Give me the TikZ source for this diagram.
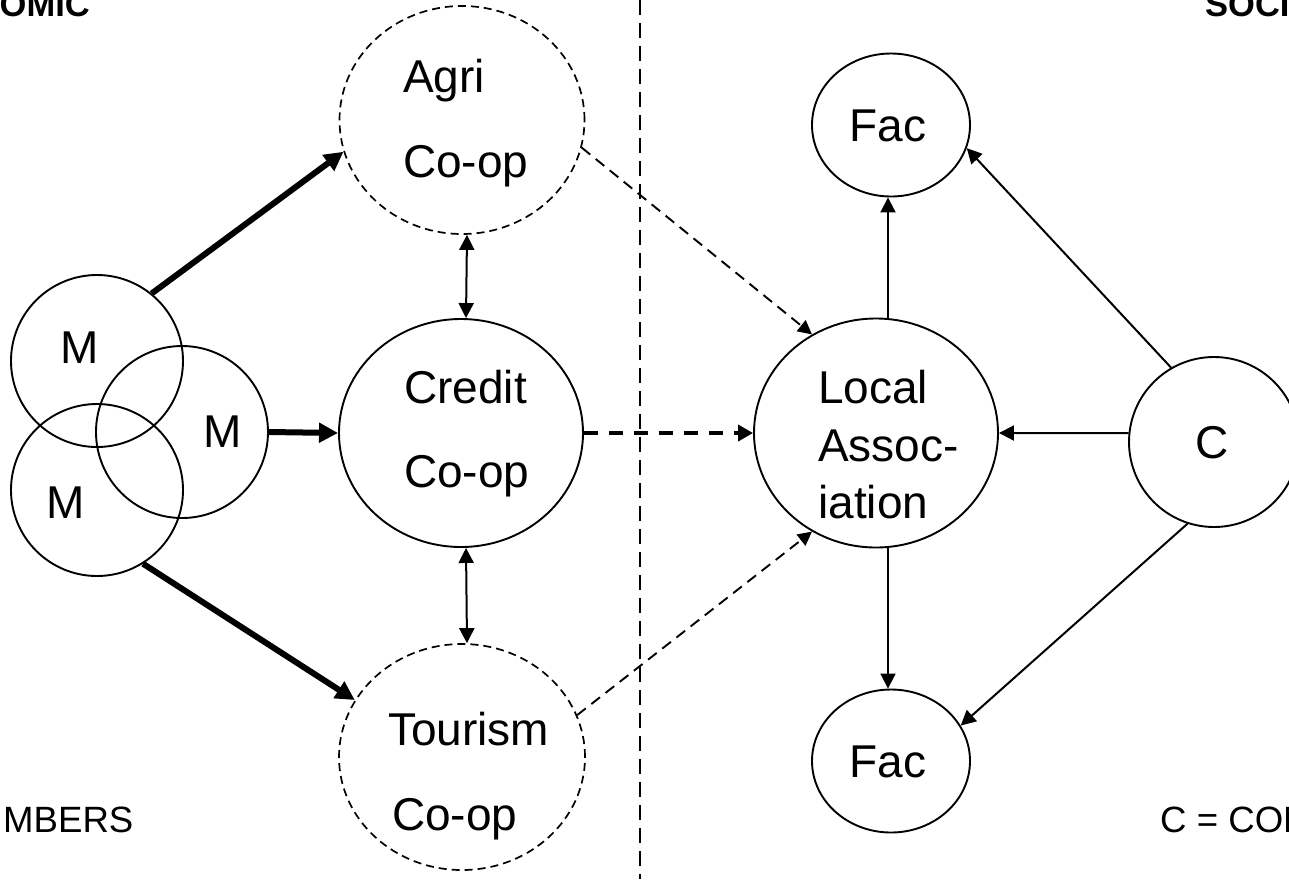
\documentclass[tikz,border=0pt]{standalone}
\usepackage{fontspec}
\setmainfont{Liberation Sans}
\usetikzlibrary{arrows.meta,shapes.geometric}
\begin{document}
\begin{tikzpicture}[x=1pt,y=-1pt,
  ell/.style={ellipse, draw, line width=1.9pt, inner sep=0pt},
  circ/.style={circle, draw, line width=1.9pt, inner sep=0pt, minimum size=172pt},
  dsh/.style={line width=1.7pt, dash pattern=on 8pt off 5pt},
  txt/.style={inner sep=0pt, anchor=base west, font=\fontsize{46}{55}\selectfont},
  ttl/.style={inner sep=0pt, font=\bfseries\fontsize{34.5}{40}\selectfont},
  leg/.style={inner sep=0pt, anchor=base west, font=\fontsize{36.6}{44}\selectfont},
  thickarr/.style={line width=6pt, -{Triangle[length=19pt,width=19pt]}},
  thinarr/.style={line width=2pt, >={Triangle[length=15pt,width=15pt]}},
  dashthin/.style={line width=1.9pt, dash pattern=on 11pt off 7pt, -{Triangle[length=14pt,width=14pt]}},
  dashthick/.style={line width=4.5pt, dash pattern=on 14pt off 11pt, -{Triangle[length=15pt,width=16pt]}}]
\clip (0,0) rectangle (1289,879);

% divider
\draw[line width=1.6pt, dash pattern=on 15pt off 8pt] (640,0) -- (640,879);

% member circles
\node[circ] (m1) at (97,361) {};
\node[circ] (m2) at (182,432) {};
\node[circ] (m3) at (97,490) {};
\node[txt] (m1t) at (60,363) {M};
\node[txt] (m2t) at (203,447) {M};
\node[txt] (m3t) at (46,518) {M};

% co-ops
\node[ell, dsh, minimum width=245pt, minimum height=228pt] (agri) at (462,120) {};
\node[ell, minimum width=244pt, minimum height=228pt] (credit) at (461,433) {};
\node[ell, dsh, minimum width=246pt, minimum height=226pt] (tour) at (462,757) {};
\node[txt] (agri1) at (403,92) {Agri};
\node[txt] (agri2) at (403,177) {Co-op};
\node[txt] (cred1) at (404,403) {Credit};
\node[txt] (cred2) at (404,487) {Co-op};
\node[txt] (tour1) at (388,745) {Tourism};
\node[txt] (tour2) at (392,830) {Co-op};

% social side
\node[ell, minimum width=244pt, minimum height=229pt] (local) at (876,433) {};
\node[txt] (loc1) at (818,403) {Local};
\node[txt] (loc2) at (818,461) {Assoc-};
\node[txt] (loc3) at (818,518) {iation};
\node[ell, minimum width=158pt, minimum height=143pt] (fact) at (891,125) {};
\node[ell, minimum width=158pt, minimum height=143pt] (facb) at (891,761) {};
\node[txt, anchor=base] (fact1) at (888,141) {Fac};
\node[txt, anchor=base] (facb1) at (888,777) {Fac};
\node[circ, minimum size=170pt] (c) at (1214,442) {};
\node[txt, anchor=base] (ct) at (1212,458) {C};

% titles and legend
\node[ttl, anchor=base east] (econ) at (90,16) {OMIC};
\node[ttl, anchor=base west] (soc) at (1205,16) {SOCI};
\node[leg] (memb) at (3,832) {MBERS};
\node[leg] (comm) at (1160,832) {C = COM};

% connectors
\draw[thickarr] (m1.51) -- (agri.195);
\draw[thickarr] (m2.east) -- (credit.west);
\draw[thickarr] (m3.-58) -- (tour.152);
\draw[thinarr, <->] ([xshift=5pt]agri.south) -- ([xshift=5pt]credit.north);
\draw[thinarr, <->] ([xshift=5pt]credit.south) -- ([xshift=5pt]tour.north);
\draw[dashthin] (agri.-13) -- (local.123);
\draw[dashthick] (credit.east) -- (local.west);
\draw[dashthin] (tour.20) -- (local.237);
\draw[thinarr, ->] ([xshift=12pt]local.north) -- ([xshift=-3pt]fact.south);
\draw[thinarr, ->] ([xshift=12pt]local.south) -- ([xshift=-3pt]facb.north);
\draw[thinarr, ->] (c.120) -- (fact.-17);
\draw[thinarr, ->] (c.174) -- (local.east);
\draw[thinarr, ->] (c.252) -- (facb.27);
\end{tikzpicture}
\end{document}
